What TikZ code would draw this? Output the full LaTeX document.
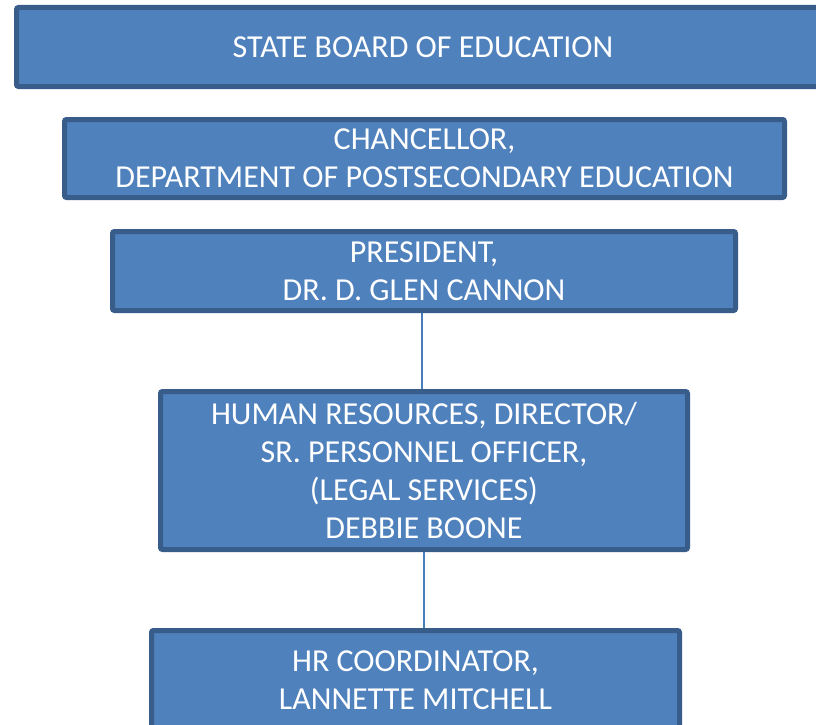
\documentclass[tikz,border=0pt]{standalone}
\usepackage{fontspec}
\setmainfont{Carlito}
\definecolor{boxfill}{HTML}{4F81BD}
\definecolor{boxedge}{HTML}{385D8A}
\definecolor{connline}{HTML}{4A7EBB}
\begin{document}
\begin{tikzpicture}[x=1pt,y=-1pt,
  orgbox/.style={draw=boxedge, fill=boxfill, line width=5pt, rounded corners=2pt,
    text=white, align=center, inner sep=0pt,
    font=\fontsize{32}{38}\selectfont},
  conn/.style={draw=connline, line width=1.5pt}]
\useasboundingbox (0,0) rectangle (816,725);
\clip (0,0) rectangle (816,725);
\fill[white] (0,0) rectangle (816,725);
\draw[conn] (422,310) -- (422,392);
\draw[conn] (424,550) -- (424,631);
\node[orgbox, minimum width=813pt, minimum height=79pt] (sb) at (423,47) {STATE BOARD OF EDUCATION};
\node[orgbox, minimum width=720pt, minimum height=78pt] (ch) at (424.5,158.5) {CHANCELLOR,\\DEPARTMENT OF POSTSECONDARY EDUCATION};
\node[orgbox, minimum width=623pt, minimum height=79pt] (pr) at (424,271) {PRESIDENT,\\DR. D. GLEN CANNON};
\node[orgbox, minimum width=527pt, minimum height=158pt] (hr) at (424,470.5) {HUMAN RESOURCES, DIRECTOR/\\SR. PERSONNEL OFFICER,\\(LEGAL SERVICES)\\DEBBIE BOONE};
\node[orgbox, minimum width=528pt, minimum height=99pt] (co) at (415.5,680) {HR COORDINATOR,\\LANNETTE MITCHELL};
\end{tikzpicture}
\end{document}
